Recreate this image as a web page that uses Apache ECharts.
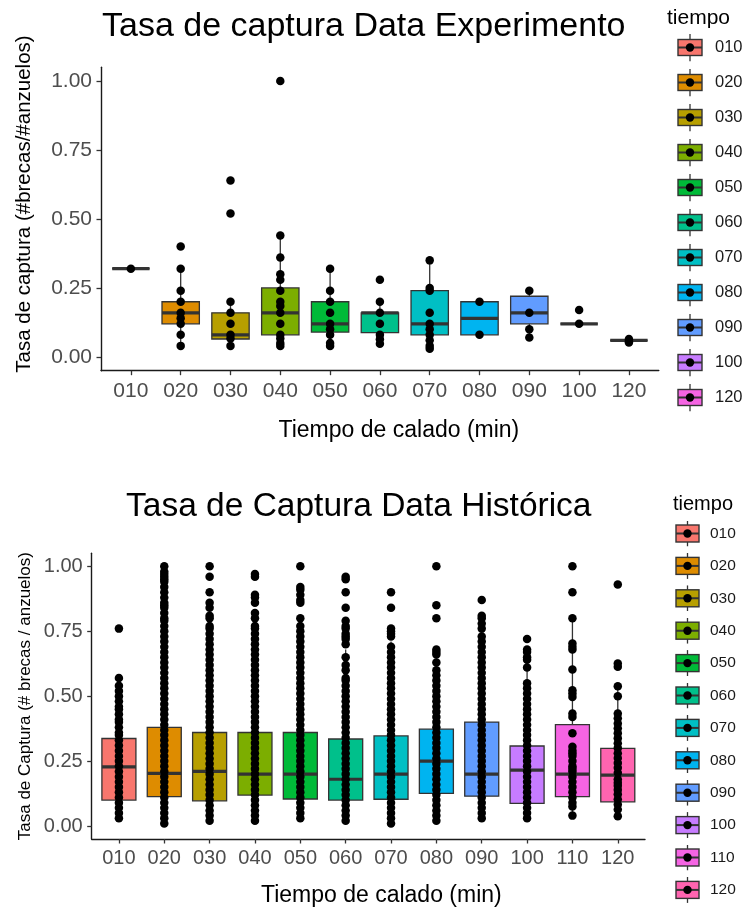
<!DOCTYPE html>
<html>
<head>
<meta charset="utf-8">
<script src="https://cdn.jsdelivr.net/npm/echarts@6/dist/echarts.min.js"></script>
<style>
  html, body { margin: 0; padding: 0; background: #ffffff; }
  #chart { width: 745px; height: 908px; }
</style>
</head>
<body>
<div id="chart"></div>
<script>
// ---------- Experiment data (11 soak times) ----------
const expCats = ['010', '020', '030', '040', '050', '060', '070', '080', '090', '100', '120'];
const expLow    = [0.32, 0.04, 0.04,  0.04, 0.04, 0.048, 0.03, 0.08, 0.07, 0.12, 0.06];
const expQ1     = [0.32, 0.12, 0.065, 0.08, 0.09, 0.088, 0.08, 0.08, 0.12, 0.12, 0.06];
const expMedian = [0.32, 0.16, 0.08,  0.16, 0.12, 0.16,  0.12, 0.14, 0.16, 0.12, 0.06];
const expQ3     = [0.32, 0.20, 0.16,  0.25, 0.20, 0.16,  0.24, 0.20, 0.22, 0.12, 0.06];
const expHigh   = [0.32, 0.32, 0.20,  0.44, 0.32, 0.20,  0.35, 0.20, 0.24, 0.12, 0.06];
const expPoints = [
  [0.32],
  [0.40, 0.32, 0.24, 0.20, 0.16, 0.14, 0.12, 0.08, 0.04],
  [0.64, 0.52, 0.20, 0.16, 0.12, 0.08, 0.067, 0.04],
  [1.00, 0.44, 0.36, 0.30, 0.28, 0.24, 0.20, 0.185, 0.16, 0.12, 0.08, 0.067, 0.05, 0.04],
  [0.32, 0.24, 0.20, 0.16, 0.12, 0.10, 0.08, 0.05, 0.04],
  [0.28, 0.20, 0.16, 0.12, 0.08, 0.064, 0.048],
  [0.35, 0.25, 0.24, 0.16, 0.12, 0.10, 0.08, 0.06, 0.04, 0.03],
  [0.20, 0.08],
  [0.24, 0.16, 0.10, 0.07],
  [0.17, 0.12],
  [0.065, 0.058, 0.052]
];

// ---------- Historical data (12 soak times) ----------
const histCats = ['010', '020', '030', '040', '050', '060', '070', '080', '090', '100', '110', '120'];
const histLow    = [0.03,  0.01,  0.02,  0.02,  0.03,  0.02,  0.01,  0.02,  0.03,  0.03,  0.04,  0.04];
const histQ1     = [0.10,  0.113, 0.097, 0.119, 0.104, 0.10,  0.103, 0.126, 0.115, 0.087, 0.113, 0.093];
const histMedian = [0.228, 0.203, 0.21,  0.20,  0.20,  0.18,  0.20,  0.25,  0.20,  0.215, 0.20,  0.196];
const histQ3     = [0.337, 0.38,  0.36,  0.36,  0.36,  0.335, 0.347, 0.373, 0.40,  0.308, 0.39,  0.299];
const histHigh   = [0.574, 0.78,  0.75,  0.72,  0.74,  0.68,  0.71,  0.68,  0.81,  0.64,  0.80,  0.54];
const histPoints = [
  // 010
  [0.03,0.05,0.07,0.09,0.11,0.13,0.15,0.17,0.19,0.21,0.23,0.25,0.27,0.29,0.31,0.33,0.35,0.36,0.38,0.40,
   0.41,0.43,0.45,0.46,0.48,0.50,0.52,0.54,0.57,0.76],
  // 020
  [0.01,0.03,0.05,0.07,0.09,0.11,0.13,0.15,0.17,0.19,0.21,0.23,0.25,0.27,0.29,0.31,0.33,0.35,0.37,0.39,
   0.41,0.43,0.45,0.47,0.49,0.51,0.53,0.55,0.57,0.59,0.61,0.63,0.65,0.67,0.69,0.71,0.73,0.75,0.77,0.79,
   0.80,0.82,0.84,0.85,0.86,0.88,0.90,0.92,0.94,0.95,0.96,0.97,0.98,1.00],
  // 030
  [0.02,0.04,0.06,0.08,0.10,0.12,0.14,0.16,0.18,0.20,0.22,0.24,0.26,0.28,0.30,0.32,0.34,0.36,0.38,0.40,
   0.42,0.44,0.46,0.48,0.50,0.52,0.54,0.56,0.58,0.60,0.62,0.64,0.66,0.68,0.70,0.72,0.74,0.76,
   0.77,0.80,0.81,0.84,0.86,0.90,0.96,1.00],
  // 040
  [0.02,0.04,0.06,0.08,0.10,0.12,0.14,0.16,0.18,0.20,0.22,0.24,0.26,0.28,0.30,0.32,0.34,0.36,0.38,0.40,
   0.42,0.44,0.46,0.48,0.50,0.52,0.54,0.56,0.58,0.60,0.62,0.64,0.66,0.68,0.70,0.72,0.74,0.76,
   0.77,0.80,0.82,0.86,0.88,0.89,0.96,0.97],
  // 050
  [0.03,0.05,0.07,0.09,0.11,0.13,0.15,0.17,0.19,0.21,0.23,0.25,0.27,0.29,0.31,0.33,0.35,0.37,0.39,0.41,
   0.43,0.45,0.47,0.49,0.51,0.53,0.55,0.57,0.59,0.61,0.63,0.65,0.67,0.69,0.71,0.73,0.75,
   0.77,0.80,0.86,0.87,0.89,0.91,0.92,1.00],
  // 060
  [0.02,0.04,0.06,0.08,0.10,0.12,0.14,0.16,0.18,0.20,0.22,0.24,0.26,0.28,0.30,0.32,0.34,0.36,0.38,0.40,
   0.42,0.44,0.46,0.48,0.50,0.52,0.54,0.56,0.57,0.60,0.62,0.65,0.70,0.72,0.73,0.74,0.76,0.77,0.79,
   0.84,0.90,0.95,0.96],
  // 070
  [0.01,0.03,0.05,0.07,0.09,0.11,0.13,0.15,0.17,0.19,0.21,0.23,0.25,0.27,0.29,0.31,0.33,0.35,0.37,0.39,
   0.41,0.43,0.45,0.47,0.49,0.51,0.53,0.55,0.57,0.59,0.61,0.63,0.65,0.67,0.69,0.73,0.74,0.75,0.76,
   0.84,0.90],
  // 080
  [0.02,0.04,0.06,0.08,0.10,0.12,0.14,0.16,0.18,0.20,0.22,0.24,0.26,0.28,0.30,0.32,0.34,0.36,0.38,0.40,
   0.42,0.44,0.46,0.48,0.50,0.52,0.54,0.56,0.58,0.60,0.63,0.66,0.67,0.68,0.80,0.85,1.00],
  // 090
  [0.03,0.05,0.07,0.09,0.11,0.13,0.15,0.17,0.19,0.21,0.23,0.25,0.27,0.29,0.31,0.33,0.35,0.37,0.39,0.41,
   0.43,0.45,0.47,0.49,0.51,0.53,0.55,0.57,0.59,0.61,0.63,0.65,0.67,0.69,0.71,0.73,0.76,0.78,0.80,
   0.81,0.87],
  // 100
  [0.03,0.05,0.07,0.09,0.11,0.13,0.15,0.17,0.19,0.21,0.23,0.25,0.27,0.29,0.31,0.33,0.35,0.37,0.39,0.41,
   0.43,0.45,0.47,0.49,0.51,0.53,0.55,0.61,0.64,0.65,0.67,0.68,0.72],
  // 110
  [0.04,0.075,0.09,0.11,0.13,0.15,0.17,0.19,0.21,0.22,0.23,0.25,0.27,0.28,0.29,0.305,0.357,0.42,0.433,
   0.497,0.51,0.523,0.603,0.68,0.69,0.703,0.80,0.90,1.00],
  // 120
  [0.038,0.064,0.083,0.103,0.122,0.14,0.155,0.167,0.18,0.205,0.224,0.243,0.262,0.28,0.30,0.319,0.338,
   0.357,0.376,0.395,0.415,0.433,0.50,0.538,0.613,0.626,0.93]
];

// ---------- Shared scale values ----------
const yTicks = [0, 0.25, 0.5, 0.75, 1.0];
const huePalette = ['#F8766D', '#DE8C00', '#B79F00', '#7CAE00', '#00BA38', '#00C08B',
                    '#00BFC4', '#00B4F0', '#619CFF', '#C77CFF', '#F564E3', '#FF64B0'];
const expColors = huePalette.slice(0, 11);
const histColors = huePalette;

const FONT = "'Liberation Sans', Arial, sans-serif";
const EDGE = '#333333';
const BOX_WIDTH = 0.75;

// Box + whiskers + thick median, positioned through the axes.
function boxRenderer(colors) {
  return function (params, api) {
    const i = api.value(0);
    const half = api.size([BOX_WIDTH, 0])[0] / 2;
    const low = api.coord([i, api.value(1)]);
    const cx = low[0];
    const yLow = low[1];
    const yQ1 = api.coord([i, api.value(2)])[1];
    const yMed = api.coord([i, api.value(3)])[1];
    const yQ3 = api.coord([i, api.value(4)])[1];
    const yHigh = api.coord([i, api.value(5)])[1];
    return {
      type: 'group',
      children: [
        { type: 'line', shape: { x1: cx, y1: yQ3, x2: cx, y2: yHigh }, style: { stroke: EDGE, lineWidth: 1.3 } },
        { type: 'line', shape: { x1: cx, y1: yQ1, x2: cx, y2: yLow }, style: { stroke: EDGE, lineWidth: 1.3 } },
        { type: 'rect', shape: { x: cx - half, y: yQ3, width: 2 * half, height: yQ1 - yQ3 },
          style: { fill: colors[i], stroke: EDGE, lineWidth: 1.3 } },
        { type: 'line', shape: { x1: cx - half, y1: yMed, x2: cx + half, y2: yMed },
          style: { stroke: EDGE, lineWidth: 3.2 } }
      ]
    };
  };
}

// Legend key drawn as a tiny boxplot glyph (SVG image).
function legendKey(color, w, h, boxW, boxH) {
  const cx = 1 + boxW / 2, cy = h / 2, by = (h - boxH) / 2;
  const svg =
    '<svg xmlns="http://www.w3.org/2000/svg" width="' + w + '" height="' + h + '">' +
    '<line x1="' + cx + '" y1="0" x2="' + cx + '" y2="' + h + '" stroke="' + EDGE + '" stroke-width="1.3"/>' +
    '<rect x="1" y="' + by + '" width="' + boxW + '" height="' + boxH + '" fill="' + color + '" stroke="' + EDGE + '" stroke-width="1.4"/>' +
    '<line x1="1" y1="' + cy + '" x2="' + (1 + boxW) + '" y2="' + cy + '" stroke="' + EDGE + '" stroke-width="2"/>' +
    '<circle cx="' + cx + '" cy="' + cy + '" r="4.2" fill="#000"/>' +
    '</svg>';
  return 'image://data:image/svg+xml;charset=utf-8,' + encodeURIComponent(svg);
}

function boxData(low, q1, med, q3, high) {
  return low.map((v, i) => [i, low[i], q1[i], med[i], q3[i], high[i]]);
}
function pointData(points) {
  const out = [];
  points.forEach((vals, i) => vals.forEach(v => out.push([i, v])));
  return out;
}

function xAxisFor(gridIndex, cats, fontSize, margin, nameGap, namePad) {
  const ticks = cats.map((c, i) => i);
  return {
    gridIndex: gridIndex, type: 'value', min: -0.6, max: cats.length - 0.4,
    axisLine: { show: true, onZero: false, lineStyle: { color: '#1a1a1a', width: 1.4 } },
    axisTick: { show: true, length: 4.5, customValues: ticks, lineStyle: { color: EDGE, width: 1.3 } },
    axisLabel: { customValues: ticks, formatter: v => cats[Math.round(v)], fontSize: fontSize,
                 color: '#4D4D4D', margin: margin, fontFamily: FONT },
    splitLine: { show: false },
    name: 'Tiempo de calado (min)', nameLocation: 'middle', nameGap: nameGap, nameMoveOverlap: false,
    nameTextStyle: { fontSize: 23, color: '#000', fontFamily: FONT, padding: namePad }
  };
}
function yAxisFor(gridIndex, name, fontSize, nameSize, nameGap, namePad) {
  return {
    gridIndex: gridIndex, type: 'value', min: -0.05, max: 1.05,
    axisLine: { show: true, onZero: false, lineStyle: { color: '#1a1a1a', width: 1.4 } },
    axisTick: { show: true, length: 4.5, customValues: yTicks, lineStyle: { color: EDGE, width: 1.3 } },
    axisLabel: { customValues: yTicks, formatter: v => v.toFixed(2), fontSize: fontSize,
                 color: '#4D4D4D', margin: 9, fontFamily: FONT },
    splitLine: { show: false },
    name: name, nameLocation: 'middle', nameGap: nameGap, nameMoveOverlap: false,
    nameTextStyle: { fontSize: nameSize, color: '#000', fontFamily: FONT, padding: namePad }
  };
}

const chart = echarts.init(document.getElementById('chart'), null, { renderer: 'canvas' });

// Empty series that only carry the legend entries for each soak time.
const legendSeries = [];
expCats.forEach(c => legendSeries.push({ type: 'scatter', name: c, xAxisIndex: 0, yAxisIndex: 0,
  itemStyle: { opacity: 1 }, data: [] }));
histCats.forEach(c => legendSeries.push({ type: 'scatter', name: c, xAxisIndex: 1, yAxisIndex: 1,
  itemStyle: { opacity: 1 }, data: [] }));

chart.setOption({
  animation: false,
  backgroundColor: '#ffffff',
  title: [
    { text: 'Tasa de captura Data Experimento', left: 102, top: 10, padding: 0,
      textStyle: { fontSize: 34, fontWeight: 'normal', color: '#000', fontFamily: FONT } },
    { text: 'tiempo', left: 667, top: 8, padding: 0,
      textStyle: { fontSize: 21, fontWeight: 'normal', color: '#000', fontFamily: FONT } },
    { text: 'Tasa de Captura Data Histórica', left: 126, top: 490, padding: 0,
      textStyle: { fontSize: 33.5, fontWeight: 'normal', color: '#000', fontFamily: FONT } },
    { text: 'tiempo', left: 673, top: 494, padding: 0,
      textStyle: { fontSize: 20, fontWeight: 'normal', color: '#000', fontFamily: FONT } }
  ],
  legend: [
    { orient: 'vertical', left: 677, top: 33.5, padding: 0, itemWidth: 33, itemHeight: 28, itemGap: 7,
      selectedMode: false, textStyle: { fontSize: 16.5, color: '#1a1a1a', fontFamily: FONT },
      data: expCats.map((c, i) => ({ name: c, icon: legendKey(expColors[i], 33, 28, 24, 16) })) },
    { orient: 'vertical', left: 675, top: 520.5, padding: 0, itemWidth: 30, itemHeight: 26, itemGap: 6.4,
      selectedMode: false, textStyle: { fontSize: 15.5, color: '#1a1a1a', fontFamily: FONT },
      data: histCats.map((c, i) => ({ name: c, icon: legendKey(histColors[i], 30, 26, 23, 17) })) }
  ],
  grid: [
    { left: 101, top: 67.3, width: 557.8, height: 303.4, outerBoundsMode: 'none', containLabel: false },
    { left: 91.7, top: 553.3, width: 553.3, height: 285.7, outerBoundsMode: 'none', containLabel: false }
  ],
  xAxis: [
    xAxisFor(0, expCats, 21, 10, 48, [0, 0, 0, 38]),
    xAxisFor(1, histCats, 20, 9, 45.5, [0, 0, 0, 26])
  ],
  yAxis: [
    yAxisFor(0, 'Tasa de captura (#brecas/#anzuelos)', 21, 20.5, 66, [0, 0, 0, 30]),
    yAxisFor(1, 'Tasa de Captura (# brecas / anzuelos)', 20, 17, 58, [0, 0, 0, 0])
  ],
  series: [
    { type: 'custom', name: 'cajas-exp', xAxisIndex: 0, yAxisIndex: 0, z: 2,
      renderItem: boxRenderer(expColors), encode: { x: 0, y: [1, 2, 3, 4, 5] },
      data: boxData(expLow, expQ1, expMedian, expQ3, expHigh) },
    { type: 'scatter', name: 'puntos-exp', xAxisIndex: 0, yAxisIndex: 0, z: 3,
      symbolSize: 8.5, itemStyle: { color: '#000', opacity: 1 }, data: pointData(expPoints) },
    { type: 'custom', name: 'cajas-hist', xAxisIndex: 1, yAxisIndex: 1, z: 2,
      renderItem: boxRenderer(histColors), encode: { x: 0, y: [1, 2, 3, 4, 5] },
      data: boxData(histLow, histQ1, histMedian, histQ3, histHigh) },
    { type: 'scatter', name: 'puntos-hist', xAxisIndex: 1, yAxisIndex: 1, z: 3,
      symbolSize: 8.5, itemStyle: { color: '#000', opacity: 1 }, data: pointData(histPoints) }
  ].concat(legendSeries)
});
</script>
</body>
</html>
